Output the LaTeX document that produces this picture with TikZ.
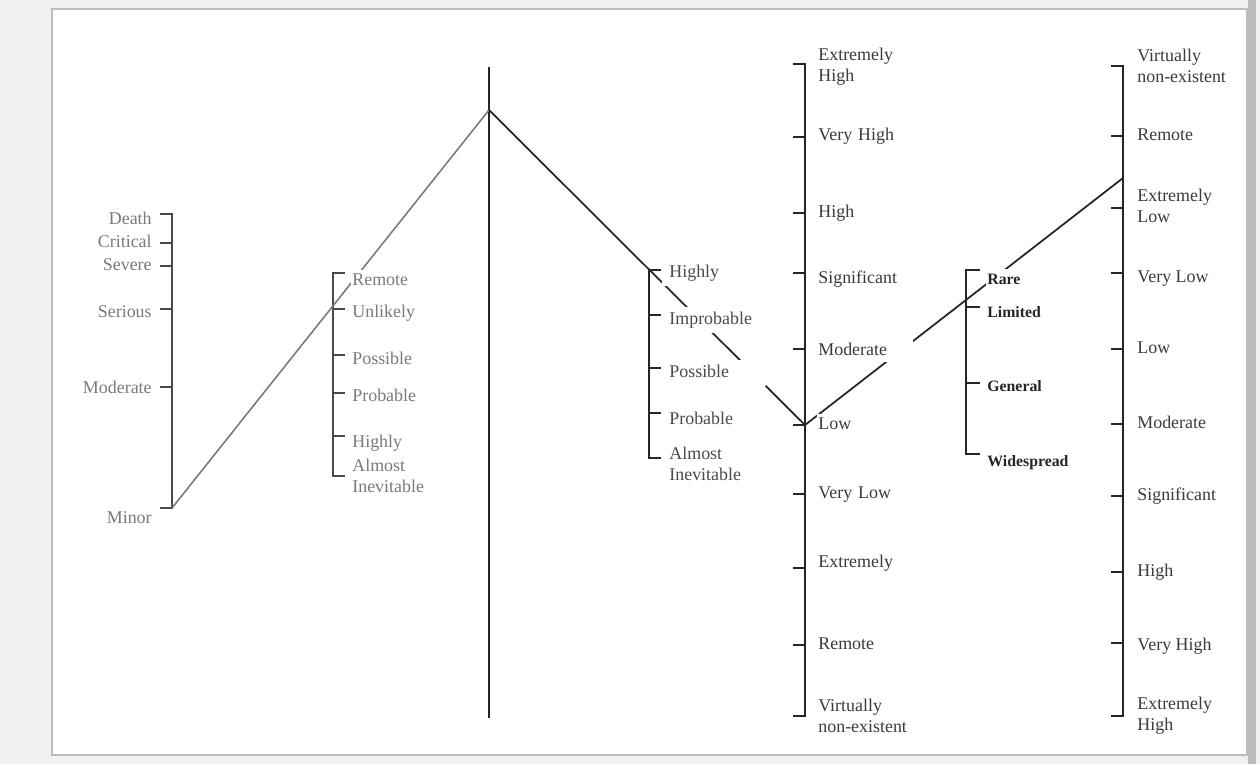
\documentclass[tikz,border=0pt]{standalone}
\usepackage{fontspec}
\setmainfont{Liberation Serif}
\usepackage{tikz}
\usetikzlibrary{positioning}
\definecolor{paper}{HTML}{F1F1F1}
\definecolor{rim}{HTML}{BDBDBD}
\definecolor{faint}{HTML}{7A7A7A}
\definecolor{midgray}{HTML}{4A4A4A}
\definecolor{ink}{HTML}{252525}
\newcommand{\lblsize}{\fontsize{10.2}{12}\selectfont}

\begin{document}
\begin{tikzpicture}[x=0.02cm, y=-0.02cm,
    ruler/.style={draw=ink, line width=1.1pt},
    rulerlight/.style={draw=midgray, line width=1.1pt},
    link/.style={draw=ink, line width=1pt},
    linklight/.style={draw=faint, line width=0.9pt},
    lbl/.style={fill=white, inner sep=1pt, text height=7.5pt, text depth=2.5pt, font=\lblsize, align=left},
    twoline/.style={text height={}, text depth={}},
    lbllight/.style={lbl, text=faint},
    lblmid/.style={lbl, text=midgray, text width=1.8cm, inner xsep=4pt, inner ysep=2.5pt},
    lbldark/.style={lbl, text=ink!90, text width=1.85cm},
    lblright/.style={lbl, text=ink!90},
    lblbold/.style={lbl, text=ink, font=\fontsize{9}{11}\selectfont\bfseries}]
    \useasboundingbox (0,0) rectangle (1260,764);
    \fill[paper] (0,0) rectangle (1260,764);
    \fill[white] (52,9) rectangle (1247,755);
    \draw[rim, line width=0.6pt] (52,9) rectangle (1247,755);
    \fill[rim] (1248,0) rectangle (1256,764);

    % axis
    \coordinate (axis-top) at (489,67);
    \coordinate (apex) at (489,110);
    \coordinate (axis-bottom) at (489,718);
    \draw[link] (axis-top)--(axis-bottom);

    % severity
    \coordinate (sev-death) at (172,214);
    \coordinate (sev-critical) at (172,243);
    \coordinate (sev-severe) at (172,266);
    \coordinate (sev-serious) at (172,309);
    \coordinate (sev-moderate) at (172,387);
    \coordinate (sev-minor) at (172,508);
    \draw[rulerlight] (sev-death) ++(-12,0) -- (sev-death) -- (sev-minor) -- ++(-12,0)
        (sev-critical) -- ++(-12,0) (sev-severe) -- ++(-12,0) (sev-serious) -- ++(-12,0) (sev-moderate) -- ++(-12,0);

    % probability
    \coordinate (prob-remote) at (333,273);
    \coordinate (prob-unlikely) at (333,309);
    \coordinate (prob-possible) at (333,355);
    \coordinate (prob-probable) at (333,393);
    \coordinate (prob-highly) at (333,436);
    \coordinate (prob-almost) at (333,476);
    \draw[rulerlight] (prob-remote) ++(12,0) -- (prob-remote) -- (prob-almost) -- ++(12,0)
        (prob-unlikely) -- ++(12,0) (prob-possible) -- ++(12,0) (prob-probable) -- ++(12,0) (prob-highly) -- ++(12,0);

    % occurrence
    \coordinate (occ-highly) at (649,270);
    \coordinate (occ-improbable) at (649,315);
    \coordinate (occ-possible) at (649,368);
    \coordinate (occ-probable) at (649,413);
    \coordinate (occ-almost) at (649,458);
    \draw[ruler] (occ-highly) ++(12,0) -- (occ-highly) -- (occ-almost) -- ++(12,0)
        (occ-improbable) -- ++(12,0) (occ-possible) -- ++(12,0) (occ-probable) -- ++(12,0);

    % risk
    \coordinate (risk-exhigh) at (805,64);
    \coordinate (risk-vhigh) at (805,137);
    \coordinate (risk-high) at (805,213);
    \coordinate (risk-significant) at (805,273);
    \coordinate (risk-moderate) at (805,349);
    \coordinate (risk-low) at (805,425);
    \coordinate (risk-vlow) at (805,494);
    \coordinate (risk-extremely) at (805,568);
    \coordinate (risk-remote) at (805,645);
    \coordinate (risk-virtually) at (805,716);
    \draw[ruler] (risk-exhigh) ++(-12,0) -- (risk-exhigh) -- (risk-virtually) -- ++(-12,0)
        (risk-vhigh) -- ++(-12,0) (risk-high) -- ++(-12,0) (risk-significant) -- ++(-12,0)
        (risk-moderate) -- ++(-12,0) (risk-low) -- ++(-12,0) (risk-vlow) -- ++(-12,0)
        (risk-extremely) -- ++(-12,0) (risk-remote) -- ++(-12,0);

    % extent
    \coordinate (ext-rare) at (966,270);
    \coordinate (ext-limited) at (966,307);
    \coordinate (ext-general) at (966,383);
    \coordinate (ext-widespread) at (966,454);
    \draw[ruler] (ext-rare) ++(14,0) -- (ext-rare) -- (ext-widespread) -- ++(14,0)
        (ext-limited) -- ++(14,0) (ext-general) -- ++(14,0);

    % confidence
    \coordinate (conf-virtually) at (1123,66);
    \coordinate (conf-remote) at (1123,136);
    \coordinate (conf-hit) at (1123,178);
    \coordinate (conf-exlow) at (1123,208);
    \coordinate (conf-vlow) at (1123,273);
    \coordinate (conf-low) at (1123,349);
    \coordinate (conf-moderate) at (1123,424);
    \coordinate (conf-significant) at (1123,496);
    \coordinate (conf-high) at (1123,572);
    \coordinate (conf-vhigh) at (1123,643);
    \coordinate (conf-exhigh) at (1123,716);
    \draw[ruler] (conf-virtually) ++(-12,0) -- (conf-virtually) -- (conf-exhigh) -- ++(-12,0)
        (conf-remote) -- ++(-12,0) (conf-exlow) -- ++(-12,0) (conf-vlow) -- ++(-12,0)
        (conf-low) -- ++(-12,0) (conf-moderate) -- ++(-12,0) (conf-significant) -- ++(-12,0)
        (conf-high) -- ++(-12,0) (conf-vhigh) -- ++(-12,0);

    \draw[linklight] (sev-minor)--(apex);
    \draw[link] (apex)--(risk-low);
    \draw[link] (risk-low)--(conf-hit);

    \node[lbllight, align=right, left=3.65mm of sev-death, yshift=-1.2mm](sev-death-txt){Death};
    \node[lbllight, align=right, left=3.65mm of sev-critical](sev-critical-txt){Critical};
    \node[lbllight, align=right, left=3.65mm of sev-severe](sev-severe-txt){Severe};
    \node[lbllight, align=right, left=3.65mm of sev-serious, yshift=-0.8mm](sev-serious-txt){Serious};
    \node[lbllight, align=right, left=3.65mm of sev-moderate, yshift=-0.4mm](sev-moderate-txt){Moderate};
    \node[lbllight, align=right, left=3.65mm of sev-minor, yshift=-2.2mm](sev-minor-txt){Minor};

    \node[lbllight, right=3.45mm of prob-remote, yshift=-1.6mm](prob-remote-txt){Remote};
    \node[lbllight, right=3.45mm of prob-unlikely, yshift=-0.8mm](prob-unlikely-txt){Unlikely};
    \node[lbllight, right=3.45mm of prob-possible, yshift=-1mm](prob-possible-txt){Possible};
    \node[lbllight, right=3.45mm of prob-probable, yshift=-0.8mm](prob-probable-txt){Probable};
    \node[lbllight, right=3.45mm of prob-highly, yshift=-1.4mm](prob-highly-txt){Highly};
    \node[lbllight, twoline, right=3.45mm of prob-almost](prob-almost-txt){Almost\\Inevitable};

    \node[lblmid, right=2.6mm of occ-highly, yshift=-0.6mm](occ-highly-txt){Highly};
    \node[lblmid, right=2.6mm of occ-improbable, yshift=-1mm](occ-improbable-txt){Improbable};
    \node[lblmid, right=2.6mm of occ-possible, yshift=-1mm](occ-possible-txt){Possible};
    \node[lblmid, right=2.6mm of occ-probable, yshift=-1.4mm](occ-probable-txt){Probable};
    \node[lblmid, twoline, right=2.6mm of occ-almost, yshift=-1.2mm](occ-almost-txt){Almost\\Inevitable};

    \node[lbldark, twoline, right=2.25mm of risk-exhigh, yshift=-0.6mm](risk-exhigh-txt){Extremely\\High};
    \node[lbldark, right=2.25mm of risk-vhigh, yshift=0.2mm](risk-vhigh-txt){Very High};
    \node[lbldark, right=2.25mm of risk-high](risk-high-txt){High};
    \node[lbldark, right=2.25mm of risk-significant, yshift=-1.2mm](risk-significant-txt){Significant};
    \node[lbldark, right=2.25mm of risk-moderate, yshift=-0.4mm](risk-moderate-txt){Moderate};
    \node[lbldark, right=2.25mm of risk-low](risk-low-txt){Low};
    \node[lbldark, right=2.25mm of risk-vlow](risk-vlow-txt){Very Low};
    \node[lbldark, right=2.25mm of risk-extremely, yshift=1mm](risk-extremely-txt){Extremely};
    \node[lbldark, right=2.25mm of risk-remote](risk-remote-txt){Remote};
    \node[lbldark, twoline, right=2.25mm of risk-virtually](risk-virtually-txt){Virtually\\non-existent};

    \node[lblbold, right=3.85mm of ext-rare, yshift=-2mm](ext-rare-txt){Rare};
    \node[lblbold, right=3.85mm of ext-limited, yshift=-1.2mm](ext-limited-txt){Limited};
    \node[lblbold, right=3.85mm of ext-general, yshift=-0.8mm](ext-general-txt){General};
    \node[lblbold, right=3.85mm of ext-widespread, yshift=-1.6mm](ext-widespread-txt){Widespread};

    \node[lblright, twoline, right=2.45mm of conf-virtually](conf-virtually-txt){Virtually\\non-existent};
    \node[lblright, right=2.45mm of conf-remote](conf-remote-txt){Remote};
    \node[lblright, twoline, right=2.45mm of conf-exlow, yshift=0.4mm](conf-exlow-txt){Extremely\\Low};
    \node[lblright, right=2.45mm of conf-vlow, yshift=-1mm](conf-vlow-txt){Very Low};
    \node[lblright, right=2.45mm of conf-low](conf-low-txt){Low};
    \node[lblright, right=2.45mm of conf-moderate](conf-moderate-txt){Moderate};
    \node[lblright, right=2.45mm of conf-significant](conf-significant-txt){Significant};
    \node[lblright, right=2.45mm of conf-high](conf-high-txt){High};
    \node[lblright, right=2.45mm of conf-vhigh, yshift=-0.6mm](conf-vhigh-txt){Very High};
    \node[lblright, twoline, right=2.45mm of conf-exhigh](conf-exhigh-txt){Extremely\\High};
\end{tikzpicture}
\end{document}
